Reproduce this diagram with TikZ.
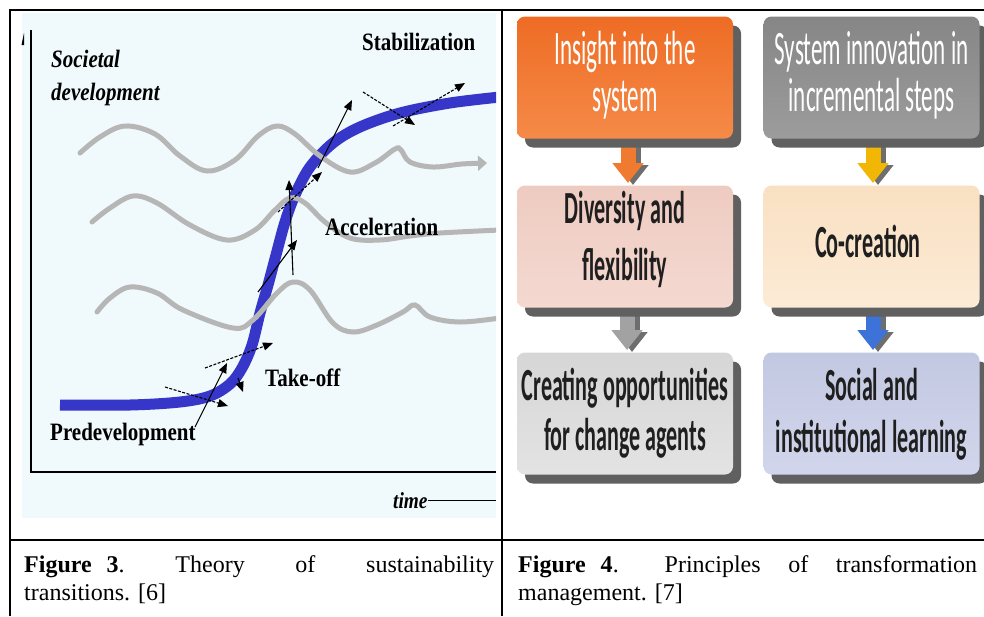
\documentclass[tikz,border=0pt]{standalone}
\usepackage{fontspec}
\setmainfont{Liberation Serif}
\newfontfamily\lblfont[FakeStretch=0.84]{Liberation Serif}
\newfontfamily\boxfont[FakeStretch=0.48]{Carlito}
\usetikzlibrary{arrows.meta,shadows}
\definecolor{bgblue}{HTML}{F0F9FC}
\definecolor{sblue}{HTML}{3636C8}
\definecolor{wavegray}{HTML}{B6B6B6}
\definecolor{shadowgray}{HTML}{606060}
\definecolor{arrowshadow}{HTML}{6E6E6E}
\definecolor{orTop}{HTML}{EE6C24}
\definecolor{orBot}{HTML}{F58A48}
\definecolor{grTop}{HTML}{868686}
\definecolor{grBot}{HTML}{9C9C9C}
\definecolor{pkTop}{HTML}{EECBC1}
\definecolor{pkBot}{HTML}{F4D9D1}
\definecolor{peTop}{HTML}{F9E0C2}
\definecolor{peBot}{HTML}{FCEBD6}
\definecolor{lgTop}{HTML}{D6D6D6}
\definecolor{lgBot}{HTML}{E3E3E3}
\definecolor{lvTop}{HTML}{C3C8E2}
\definecolor{lvBot}{HTML}{D2D6EC}
\definecolor{arOr}{HTML}{F07A30}
\definecolor{arGold}{HTML}{F2B705}
\definecolor{arGray}{HTML}{A2A2A2}
\definecolor{arBlue}{HTML}{3D72D8}
\begin{document}
\begin{tikzpicture}[x=1pt,y=-1pt,
  lbl/.style={font=\lblfont\bfseries\fontsize{25}{28}\selectfont, anchor=base west, inner sep=0pt},
  lbli/.style={font=\lblfont\bfseries\itshape\fontsize{25}{28}\selectfont, anchor=base west, inner sep=0pt},
  wave/.style={wavegray, line width=5pt, line cap=round},
  parr/.style={line width=1.1pt, -{Triangle[width=8pt,length=10pt]}},
  darr/.style={parr, dash pattern=on 3pt off 1.5pt},
  pbox/.style={rounded corners=8pt, minimum width=216pt, minimum height=122pt, inner sep=0pt,
    general shadow={fill=shadowgray, shadow xshift=8pt, shadow yshift=-9pt}},
  wtxt/.style={font=\boxfont\fontsize{48}{50}\selectfont, text=white, anchor=base, inner sep=0pt},
  btxt/.style={font=\boxfont\bfseries\fontsize{46}{48}\selectfont, text=black!88, anchor=base, inner sep=0pt},
  barrow/.style={line width=15pt, -{Triangle[width=30pt,length=20pt]}, shorten >=2pt},
  bshadow/.style={barrow, draw=arrowshadow, transform canvas={xshift=5pt,yshift=-2pt}},
  captext/.style={font=\fontsize{24}{28}\selectfont, inner sep=0pt, align=justify, anchor=base west}
]
\useasboundingbox (0,0) rectangle (984,616);

% ---------------- left figure ----------------
\begin{scope}
\clip (22,13) rectangle (496,518);
\fill[bgblue] (22,13) rectangle (496,518);
\draw[sblue, line width=11pt] plot[smooth, tension=0.55] coordinates {
 (60,405) (130,405) (180,402) (210,396) (230,384) (242,368) (252,345) (260,313)
 (268,285) (276,255) (285,222) (295,195) (310,167) (333,143) (360,127) (400,113)
 (450,103) (500,97)};
\draw[wave, -{Triangle[width=15pt,length=9pt]}] plot[smooth, tension=0.6] coordinates {
 (80,153) (100,137) (125,126) (155,134) (180,156) (207,171) (235,160) (258,136)
 (277,126) (295,134) (320,156) (350,172) (375,163) (395,149) (401,150) (410,162)
 (433,167) (462,164) (487,163)};
\draw[wave] plot[smooth, tension=0.6] coordinates {
 (92,222) (110,208) (133,196) (157,203) (190,225) (227,240) (255,230) (275,210)
 (290,198) (305,203) (325,222) (350,238) (380,240) (410,236) (440,233) (500,230)};
\draw[wave] plot[smooth, tension=0.6] coordinates {
 (97,312) (110,298) (130,287) (157,293) (183,310) (233,328) (253,320) (277,293)
 (293,282) (310,290) (333,323) (353,332) (377,325) (403,312) (415,305) (430,317)
 (460,322) (500,318)};
% black tangent arrows
\draw[darr] (363,92) -- (415,125);
\draw[darr] (393,126) -- (465,83);
\draw[parr] (318,168) -- (352,100);
\draw[darr] (278,212) -- (322,172);
\draw[parr] (293,275) -- (289,180);
\draw[parr] (258,292) -- (297,240);
\draw[darr] (205,368) -- (273,343);
\draw[parr] (195,427) -- (227,363);
\draw[darr] (165,387) -- (228,406);
\draw[parr] (238,378) -- (243,392);
\end{scope}
% axes
\draw[line width=1.2pt] (31,30) -- (31,472) -- (496,472);
\fill (21.5,45) -- (24,33) -- (24,45) -- cycle;
% labels
\node[lbli] (soc) at (51,67) {Societal};
\node[lbli] (dev) at (51,100) {development};
\node[lbl] (stab) at (362,50) {Stabilization};
\node[lbl] (acc) at (325,235) {Acceleration};
\node[lbl] (take) at (265,386) {Take-off};
\node[lbl] (pre) at (50,440) {Predevelopment};
\node[lbli, font=\lblfont\bfseries\itshape\fontsize{23}{26}\selectfont] (time) at (393,508) {time};
\draw[line width=0.9pt] (time.east) -- ++(68,0);

% ---------------- right figure ----------------
\coordinate (a1s) at (628,138); \coordinate (a1e) at (628,185);
\coordinate (a2s) at (873,138); \coordinate (a2e) at (873,185);
\coordinate (a3s) at (627,307); \coordinate (a3e) at (627,352);
\coordinate (a4s) at (873,307); \coordinate (a4e) at (873,352);
\draw[bshadow] (a1s) -- (a1e);
\draw[bshadow] (a2s) -- (a2e);
\draw[bshadow] (a3s) -- (a3e);
\draw[bshadow] (a4s) -- (a4e);
\draw[barrow, draw=arOr] (a1s) -- (a1e);
\draw[barrow, draw=arGold] (a2s) -- (a2e);
\draw[barrow, draw=arGray] (a3s) -- (a3e);
\draw[barrow, draw=arBlue] (a4s) -- (a4e);

\node[pbox, top color=orTop, bottom color=orBot] (box1) at (625,77.5) {};
\node[pbox, top color=grTop, bottom color=grBot] (box2) at (871.5,77.5) {};
\node[pbox, top color=pkTop, bottom color=pkBot] (box3) at (625,246.5) {};
\node[pbox, top color=peTop, bottom color=peBot] (box4) at (871.5,246.5) {};
\node[pbox, top color=lgTop, bottom color=lgBot] (box5) at (625,413.5) {};
\node[pbox, top color=lvTop, bottom color=lvBot] (box6) at (871.5,413.5) {};

\node[wtxt] (t1a) at (625,64) {Insight into the};
\node[wtxt] (t1b) at (625,111) {system};
\node[wtxt] (t2a) at (871.5,64) {System innovation in};
\node[wtxt] (t2b) at (871.5,111) {incremental steps};
\node[btxt] (t3a) at (625,223) {Diversity and};
\node[btxt] (t3b) at (625,280) {flexibility};
\node[btxt] (t4a) at (868,257) {Co-creation};
\node[btxt] (t5a) at (625,400) {Creating opportunities};
\node[btxt] (t5b) at (625,450) {for change agents};
\node[btxt] (t6a) at (871.5,400) {Social and};
\node[btxt] (t6b) at (871.5,452) {institutional learning};

% ---------------- table rules ----------------
\draw[line width=2pt] (10,10) -- (984,10);
\draw[line width=2pt] (10,9) -- (10,616);
\draw[line width=2pt] (502,9) -- (502,616);
\draw[line width=2pt] (10,539.5) -- (984,539.5);

% ---------------- captions ----------------
\node[captext, text width=470pt] (cap3) at (24,572)
  {\textbf{Figure}\hspace{15pt}\textbf{3}.\hfill Theory\hfill of\hfill sustainability\\transitions. [6]};
\node[captext, text width=459pt] (cap4) at (518,572)
  {\textbf{Figure}\hspace{15pt}\textbf{4}.\hspace{46pt}Principles\hfill of\hfill transformation\\management. [7]};
\end{tikzpicture}
\end{document}
